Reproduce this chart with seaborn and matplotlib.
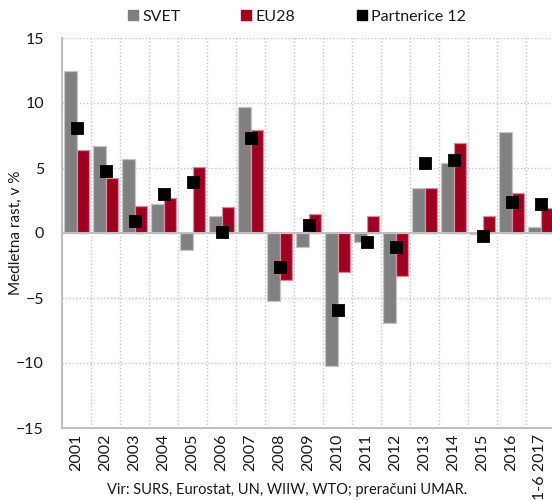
import matplotlib
matplotlib.use("Agg")
from matplotlib import pyplot as plt
from matplotlib.lines import Line2D
from matplotlib.ticker import MultipleLocator
import numpy as np
import pandas as pd
import seaborn as sns

# data
years = ['2001', '2002', '2003', '2004', '2005', '2006', '2007', '2008', '2009',
         '2010', '2011', '2012', '2013', '2014', '2015', '2016', '1-6 2017']
svet = [12.5, 6.7, 5.7, 2.2, -1.3, 1.3, 9.7, -5.2, -1.1, -10.2, -0.7, -6.9,
        3.5, 5.4, -0.1, 7.8, 0.5]
eu28 = [6.4, 4.2, 2.1, 2.7, 5.1, 2.0, 7.9, -3.6, 1.5, -3.0, 1.3, -3.3,
        3.5, 6.9, 1.3, 3.1, 1.9]
partnerice = [8.1, 4.8, 0.9, 3.0, 3.9, 0.1, 7.3, -2.6, 0.6, -5.9, -0.7, -1.1,
              5.4, 5.6, -0.2, 2.4, 2.2]

series = ['SVET', 'EU28']
colors = {'SVET': '#808080', 'EU28': '#9E0020'}
edges = {'SVET': '#C4C4C4', 'EU28': '#D98A9C'}
txt = '#1A1A1A'

sns.set_theme(style="white")
plt.rcParams['font.family'] = ['Lato', 'DejaVu Sans']

df = pd.DataFrame({
    'leto': years * 2,
    'vrednost': svet + eu28,
    'serija': ['SVET'] * len(years) + ['EU28'] * len(years),
})
pts = pd.DataFrame({'leto': years, 'vrednost': partnerice})

fig = plt.figure(figsize=(5.52, 5.0), dpi=100)
ax = fig.add_axes([62 / 552, 1 - 428 / 500, 493 / 552, 390 / 500])

sns.barplot(data=df, x='leto', y='vrednost', hue='serija', order=years,
            hue_order=series, palette=colors, width=0.83, gap=0,
            saturation=1, legend=False, ax=ax, zorder=2)

# lighter outline per series
n = len(years)
for i, bar in enumerate(ax.patches[:2 * n]):
    s = series[i // n]
    bar.set_edgecolor(edges[s])
    bar.set_linewidth(0.9)

sns.pointplot(data=pts, x='leto', y='vrednost', order=years, color='black',
              markers='s', markersize=7, linestyle='none', errorbar=None,
              ax=ax)
for c in ax.collections:
    c.set_zorder(4)
for l in ax.lines:
    l.set_zorder(4)

ax.set_xlim(-0.5, n - 0.5)
ax.set_ylim(-15, 15)
ax.yaxis.set_major_locator(MultipleLocator(5))
ax.set_xticks(np.arange(n))
ax.set_xticklabels(years, rotation=90, fontsize=11.5)
ax.set_xticks(np.arange(n - 1) + 0.5, minor=True)
ax.tick_params(axis='both', which='both', length=0, labelsize=11.5, colors=txt)
ax.tick_params(axis='y', pad=13)
ax.tick_params(axis='x', pad=4)

ax.grid(True, axis='y', which='major', color='#C8C8C8', linestyle=(0, (1, 1.5)), linewidth=1)
ax.grid(True, axis='x', which='minor', color='#C8C8C8', linestyle=(0, (1, 1.5)), linewidth=1)
ax.set_axisbelow(True)
ax.axhline(0, color='#BFBFBF', linewidth=1.5, zorder=3)

for side in ['top', 'right']:
    ax.spines[side].set_visible(False)
for side in ['left', 'bottom']:
    ax.spines[side].set_color('#BFBFBF')
    ax.spines[side].set_linewidth(1.5)

ax.set_xlabel('')
ax.set_ylabel('Medletna rast, v %', fontsize=11, color=txt)
ax.yaxis.set_label_coords((23 - 62) / 493, 0.5)

# legend entries placed one by one, like the reference
legend_items = [('SVET', colors['SVET'], 128), ('EU28', colors['EU28'], 241),
                ('Partnerice 12', 'black', 357)]
for label, col, x0 in legend_items:
    h = Line2D([], [], marker='s', linestyle='none', color=col, markersize=7)
    fig.legend([h], [label], loc='center left', frameon=False,
               bbox_to_anchor=((x0 - 1) / 552, 1 - 17 / 500), fontsize=11.5,
               handlelength=0.7, handletextpad=0.25, borderpad=0,
               borderaxespad=0, labelcolor=txt)

fig.text(287 / 552, 1 - 490 / 500, 'Vir: SURS, Eurostat, UN, WIIW, WTO; preračuni UMAR.',
         ha='center', va='center', fontsize=10.5, color=txt)

fig.savefig('out.png', dpi=100)
